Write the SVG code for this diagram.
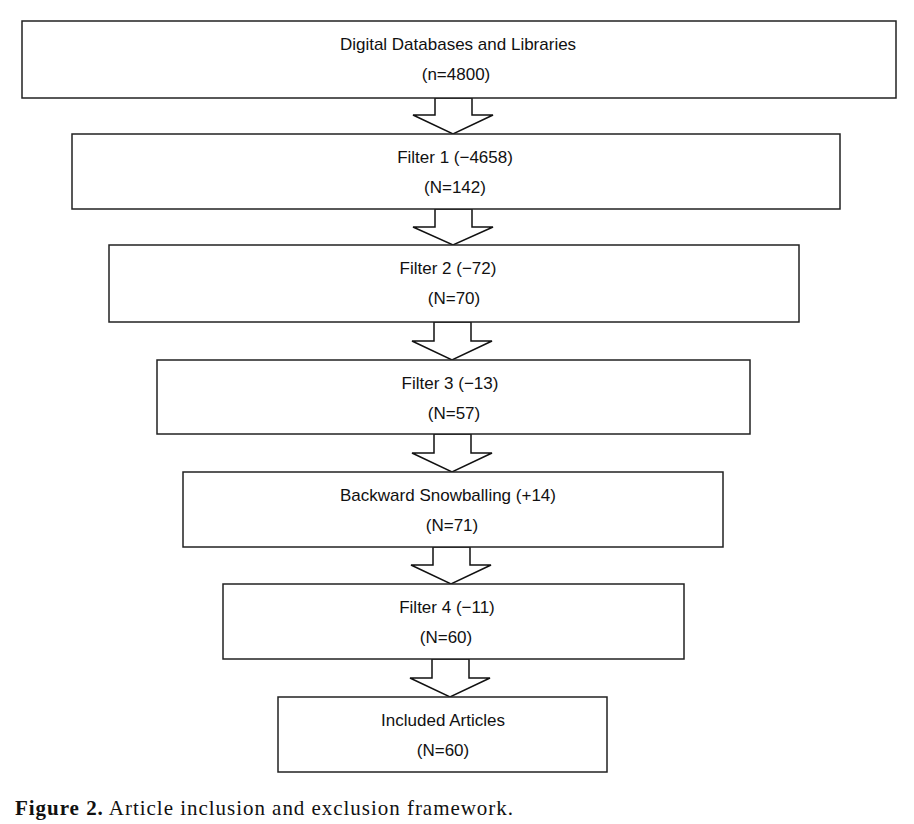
<svg xmlns="http://www.w3.org/2000/svg" width="914" height="824" viewBox="0 0 914 824">
<style>
.box{fill:#fff;stroke:#222;stroke-width:1.5}
.arr{fill:#fff;stroke:#111;stroke-width:1.5;stroke-linejoin:miter}
.t{font-family:"Liberation Sans",Arial,sans-serif;font-size:17px;fill:#111;text-anchor:middle}
.cap{font-family:"Liberation Serif","Times New Roman",serif;font-size:21px;fill:#111}
</style>
<rect width="914" height="824" fill="#fff"/>
<g id="connectors">
<polygon class="arr" points="435,98 472,98 472,115 493,115 453,134 413,115 435,115"/>
<polygon class="arr" points="435,209 472,209 472,227 493,227 453,245 413,227 435,227"/>
<polygon class="arr" points="434,322 471,322 471,341 492,341 452,360 412,341 434,341"/>
<polygon class="arr" points="434,434 471,434 471,453 492,453 452,472 412,453 434,453"/>
<polygon class="arr" points="433,547 470,547 470,565 491,565 451,584 411,565 433,565"/>
<polygon class="arr" points="432,659 469,659 469,678 490,678 450,697 410,678 432,678"/>
</g>
<g id="n1"><rect class="box" x="22" y="21" width="874" height="77"/>
<text class="t" x="458" y="50">Digital Databases and Libraries</text>
<text class="t" x="456" y="80">(n=4800)</text></g>
<g id="n2"><rect class="box" x="72" y="134" width="768" height="75"/>
<text class="t" x="455" y="163">Filter 1 (−4658)</text>
<text class="t" x="455" y="193">(N=142)</text></g>
<g id="n3"><rect class="box" x="109" y="245" width="690" height="77"/>
<text class="t" x="448" y="274">Filter 2 (−72)</text>
<text class="t" x="454" y="304">(N=70)</text></g>
<g id="n4"><rect class="box" x="157" y="360" width="593" height="74"/>
<text class="t" x="450" y="389">Filter 3 (−13)</text>
<text class="t" x="454" y="419">(N=57)</text></g>
<g id="n5"><rect class="box" x="183" y="472" width="540" height="75"/>
<text class="t" x="448" y="501">Backward Snowballing (+14)</text>
<text class="t" x="452" y="531">(N=71)</text></g>
<g id="n6"><rect class="box" x="223" y="584" width="461" height="75"/>
<text class="t" x="447" y="613">Filter 4 (−11)</text>
<text class="t" x="446" y="643">(N=60)</text></g>
<g id="n7"><rect class="box" x="278" y="697" width="329" height="75"/>
<text class="t" x="443" y="726">Included Articles</text>
<text class="t" x="443" y="756">(N=60)</text></g>
<text class="cap" x="15" y="815" textLength="498" lengthAdjust="spacing"><tspan font-weight="bold">Figure 2.</tspan> Article inclusion and exclusion framework.</text>
</svg>
